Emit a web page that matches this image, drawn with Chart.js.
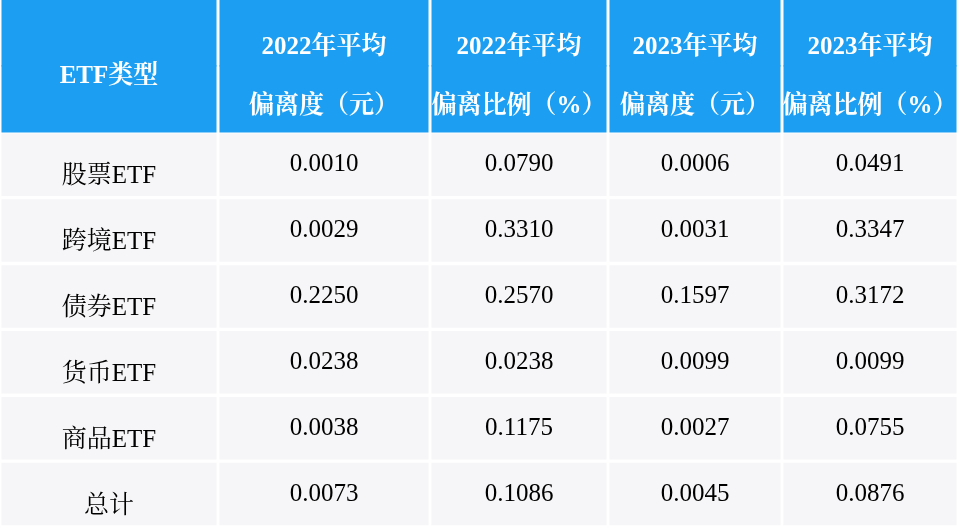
<!DOCTYPE html>
<html><head><meta charset="utf-8">
<script src="https://cdn.jsdelivr.net/npm/chart.js@4"></script>
<style>html,body{margin:0;padding:0;background:#fff}#c{width:958px;height:527px}</style>
</head><body><div id="c"><canvas id="tbl"></canvas></div>
<script>
const headLine1 = ['ETF类型', '2022年平均', '2022年平均', '2023年平均', '2023年平均'];
const headLine2 = ['', '偏离度（元）', '偏离比例（%）', '偏离度（元）', '偏离比例（%）'];
const types = ['股票ETF', '跨境ETF', '债券ETF', '货币ETF', '商品ETF', '总计'];
const dev2022 = ['0.0010', '0.0029', '0.2250', '0.0238', '0.0038', '0.0073'];
const pct2022 = ['0.0790', '0.3310', '0.2570', '0.0238', '0.1175', '0.1086'];
const dev2023 = ['0.0006', '0.0031', '0.1597', '0.0099', '0.0027', '0.0045'];
const pct2023 = ['0.0491', '0.3347', '0.3172', '0.0099', '0.0755', '0.0876'];

// layout
const colEdges = [0, 218, 430, 608, 782, 958];
const rowLabels = ['h1', 'h2'].concat(types);
const cols = [types, dev2022, pct2022, dev2023, pct2023];
const BLUE = '#1c9ff2', GRAY = '#f6f6f8';
const FONT = '"Liberation Serif", "Noto Serif CJK SC", "Noto Sans CJK SC", serif';

const datasets = [];
colEdges.slice(0, -1).forEach((x0, c) => {
  const x1 = colEdges[c + 1];
  datasets.push({
    data: rowLabels.slice(2).map(r => ({ y: r, x: [x0 + 1.5, x1 - 1.5] })),
    backgroundColor: GRAY, barPercentage: 0.95, categoryPercentage: 1, grouped: false
  });
  datasets.push({
    data: ['h1', 'h2'].map(r => ({ y: r, x: [x0 + 1.5, x1 - 1.5] })),
    backgroundColor: BLUE, barPercentage: 1.02, categoryPercentage: 1, grouped: false
  });
});

const textPlugin = {
  id: 'cellText',
  afterDatasetsDraw(chart) {
    const { ctx, scales: { x, y } } = chart;
    ctx.save();
    ctx.textAlign = 'center';
    ctx.textBaseline = 'middle';
    const hy = (y.getPixelForValue(0) + y.getPixelForValue(1)) / 2;
    ctx.fillStyle = '#fff';
    ctx.font = 'bold 25px ' + FONT;
    headLine1.forEach((t, c) => {
      const cx = x.getPixelForValue((colEdges[c] + colEdges[c + 1]) / 2);
      if (c === 0) { ctx.fillText(t, cx, hy + 11); return; }
      ctx.fillText(t, cx, hy - 18);
      ctx.fillText(headLine2[c], cx, hy + 41);
    });
    ctx.fillStyle = '#000';
    ctx.font = '25px ' + FONT;
    cols.forEach((col, c) => {
      const cx = x.getPixelForValue((colEdges[c] + colEdges[c + 1]) / 2);
      col.forEach((t, r) => {
        ctx.fillText(t, cx, y.getPixelForValue(r + 2) + (c === 0 ? 12 : 0));
      });
    });
    ctx.restore();
  }
};

new Chart(document.getElementById('tbl'), {
  type: 'bar',
  data: { labels: rowLabels, datasets },
  options: {
    indexAxis: 'y', responsive: true, maintainAspectRatio: false, animation: false,
    layout: { padding: 0 },
    plugins: { legend: { display: false }, tooltip: { enabled: false } },
    scales: {
      x: { type: 'linear', min: 0, max: 958, display: false },
      y: { type: 'category', display: false, offset: true }
    }
  },
  plugins: [textPlugin]
});
</script></body></html>
